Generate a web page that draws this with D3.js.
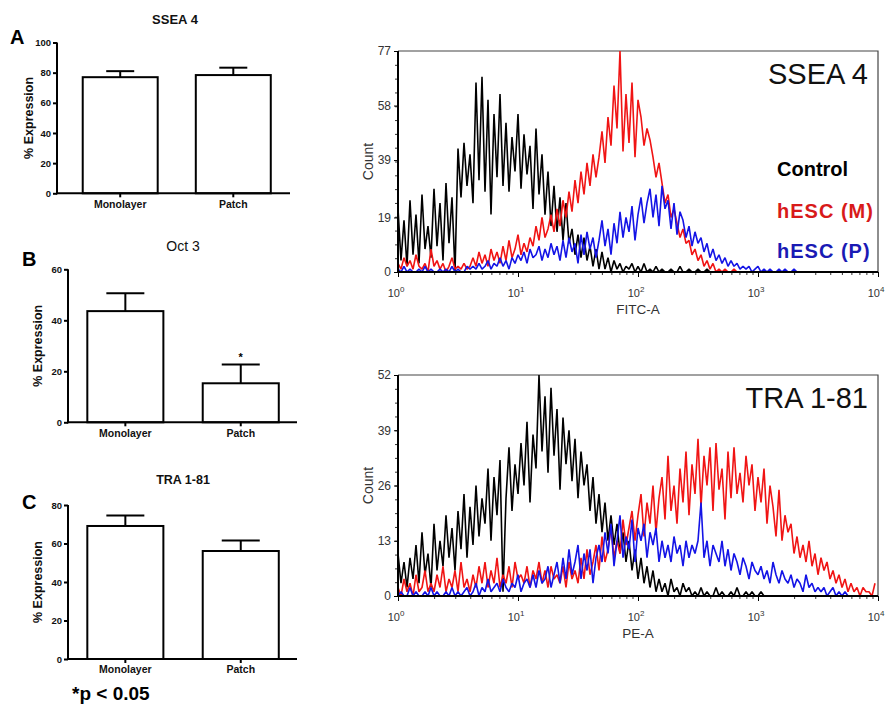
<!DOCTYPE html>
<html>
<head>
<meta charset="utf-8">
<script src="https://cdn.jsdelivr.net/npm/d3@7"></script>
<style>
  body { margin: 0; background: #fff; }
  svg { display: block; }
  text { font-family: "Liberation Sans", Arial, sans-serif; }
</style>
</head>
<body>
<svg id="fig" width="890" height="706"></svg>
<script>
// ---------- bar chart data (% expression, mean and SEM) ----------
const groups = ["Monolayer", "Patch"];

const sseaMean = [77.0, 78.4];
const sseaSem  = [4.0, 4.9];
const sseaTicks = [0, 20, 40, 60, 80, 100];

const oct3Mean = [43.6, 15.3];
const oct3Sem  = [7.0, 7.4];
const oct3Ticks = [0, 20, 40, 60];
const oct3Signif = [false, true];

const traMean = [69.1, 56.1];
const traSem  = [5.5, 5.4];
const traTicks = [0, 20, 40, 60, 80];

// ---------- flow cytometry histograms ----------
// counts per channel bin; bin i sits at fluorescence 10^(i/40)
const binsPerDecade = 40;
const seriesNames = ["Control", "hESC (M)", "hESC (P)"];

const sseaControl = [
  22, 4, 18, 2, 25, 6, 20, 3, 27, 8,
  16, 5, 29, 9, 24, 4, 31, 10, 26, 0,
  43, 26, 45, 30, 41, 24, 66, 32, 68, 28,
  60, 20, 55, 33, 62, 30, 52, 28, 47, 35,
  55, 29, 48, 34, 44, 22, 50, 27, 41, 20,
  35, 16, 30, 14, 26, 11, 24, 10, 15, 6,
  13, 5, 12, 4, 9, 2, 8, 1, 7, 1,
  5, 0, 4, 1, 3, 0, 2, 1, 3, 0,
  2, 0, 3, 0, 1, 0, 2, 0, 1, 0,
  0, 1, 0, 0, 2, 0, 0, 1, 0, 0,
  1, 0, 0, 1, 0, 0, 0, 0, 0, 0,
  0, 0, 0, 0, 0, 0, 0, 0, 0, 0,
  0, 0, 0, 0, 0, 0, 0, 0, 0, 0,
  0, 0, 0, 0, 0, 0, 0, 0, 0, 0,
  0, 0, 0, 0, 0, 0, 0, 0, 0, 0,
  0, 0, 0, 0, 0, 0, 0, 0, 0, 0
];
const sseaMono = [
  3, 1, 5, 2, 4, 1, 6, 2, 1, 3,
  0, 8, 2, 4, 1, 3, 0, 2, 5, 1,
  2, 1, 3, 1, 2, 5, 2, 7, 3, 6,
  2, 8, 4, 7, 3, 9, 4, 11, 5, 8,
  13, 6, 10, 7, 12, 9, 16, 11, 19, 12,
  15, 20, 14, 22, 16, 25, 19, 28, 21, 32,
  24, 35, 27, 38, 30, 41, 33, 40, 49, 38,
  54, 44, 65, 50, 77, 42, 62, 45, 66, 40,
  60, 54, 44, 50, 46, 40, 33, 38, 31, 24,
  27, 19, 22, 17, 12, 15, 10, 11, 6, 8,
  4, 6, 2, 4, 1, 3, 0, 1, 0, 1,
  0, 0, 1, 0, 0, 0, 0, 0, 0, 0,
  0, 0, 0, 0, 0, 0, 0, 0, 0, 0,
  0, 0, 0, 0, 0, 0, 0, 0, 0, 0,
  0, 0, 0, 0, 0, 0, 0, 0, 0, 0,
  0, 0, 0, 0, 0, 0, 0, 0, 0, 0
];
const sseaPatch = [
  1, 0, 2, 0, 1, 0, 0, 1, 0, 2,
  0, 1, 0, 0, 1, 0, 1, 0, 2, 0,
  1, 0, 0, 2, 1, 2, 1, 3, 1, 2,
  4, 1, 3, 2, 5, 2, 4, 1, 5, 3,
  6, 4, 7, 3, 8, 5, 6, 9, 4, 8,
  5, 10, 6, 9, 4, 11, 5, 12, 7, 10,
  3, 13, 6, 14, 8, 12, 5, 11, 18, 9,
  15, 6, 17, 10, 21, 12, 19, 14, 23, 11,
  20, 26, 17, 24, 29, 19, 27, 16, 30, 22,
  25, 15, 24, 13, 21, 18, 12, 16, 9, 14,
  10, 12, 7, 10, 5, 8, 4, 6, 3, 5,
  2, 4, 2, 3, 1, 2, 1, 2, 0, 1,
  2, 0, 1, 0, 1, 0, 0, 1, 0, 1,
  0, 0, 1, 0, 0, 0, 0, 0, 0, 0,
  0, 0, 0, 0, 0, 0, 0, 0, 0, 0,
  0, 0, 0, 0, 0, 0, 0, 0, 0, 0
];

const traControl = [
  10, 3, 8, 2, 9, 4, 12, 3, 15, 5,
  10, 2, 17, 6, 13, 7, 19, 9, 16, 6,
  20, 11, 24, 9, 21, 12, 26, 14, 23, 17,
  30, 13, 28, 19, 32, 1, 23, 35, 20, 31,
  24, 36, 26, 41, 22, 38, 30, 52, 34, 47,
  29, 49, 33, 44, 25, 42, 31, 39, 27, 37,
  23, 34, 26, 31, 20, 28, 17, 24, 15, 22,
  13, 19, 12, 17, 10, 15, 8, 13, 6, 11,
  4, 9, 3, 7, 2, 6, 1, 4, 1, 3,
  0, 4, 1, 2, 0, 3, 1, 2, 0, 1,
  0, 2, 0, 1, 0, 0, 2, 0, 1, 0,
  0, 1, 0, 2, 0, 0, 1, 0, 1, 0,
  0, 1, 0, 0, 0, 0, 0, 0, 0, 0,
  0, 0, 0, 0, 0, 0, 0, 0, 0, 0,
  0, 0, 0, 0, 0, 0, 0, 0, 0, 0,
  0, 0, 0, 0, 0, 0, 0, 0, 0, 0
];
const traMono = [
  2, 0, 4, 1, 3, 0, 5, 1, 2, 6,
  1, 3, 1, 5, 2, 7, 1, 4, 2, 6,
  1, 8, 2, 4, 1, 5, 2, 7, 3, 8,
  2, 6, 3, 9, 2, 5, 3, 7, 2, 8,
  4, 5, 3, 7, 2, 6, 4, 8, 3, 6,
  2, 7, 4, 5, 3, 7, 2, 8, 4, 6,
  3, 9, 4, 11, 5, 8, 12, 6, 14, 8,
  11, 16, 9, 13, 10, 18, 12, 16, 20, 13,
  19, 24, 14, 22, 17, 26, 15, 23, 28, 18,
  33, 20, 26, 17, 30, 22, 34, 19, 31, 24,
  37, 21, 33, 26, 35, 20, 36, 25, 30, 18,
  34, 23, 35, 24, 29, 22, 33, 26, 31, 20,
  28, 22, 30, 17, 26, 21, 14, 25, 13, 19,
  15, 17, 10, 14, 9, 12, 8, 13, 7, 10,
  5, 9, 6, 8, 4, 6, 3, 5, 2, 4,
  1, 3, 1, 2, 0, 2, 1, 1, 0, 3
];
const traPatch = [
  0, 1, 0, 0, 2, 0, 1, 0, 0, 1,
  0, 2, 0, 1, 0, 0, 1, 0, 2, 0,
  1, 0, 1, 2, 0, 1, 3, 0, 2, 1,
  4, 1, 2, 3, 1, 4, 2, 1, 3, 2,
  5, 1, 3, 4, 2, 5, 2, 6, 3, 4,
  7, 2, 5, 8, 3, 9, 4, 11, 5, 8,
  12, 4, 10, 6, 11, 3, 9, 12, 8, 15,
  10, 17, 7, 13, 19, 9, 14, 11, 18, 8,
  16, 13, 17, 9, 15, 12, 16, 8, 13, 9,
  12, 8, 14, 10, 12, 7, 13, 9, 12, 10,
  13, 22, 9, 13, 7, 12, 10, 8, 13, 7,
  11, 6, 10, 8, 5, 9, 7, 4, 8, 6,
  5, 7, 4, 6, 3, 8, 5, 3, 6, 4,
  3, 5, 2, 4, 3, 1, 5, 2, 3, 1,
  2, 1, 2, 0, 1, 2, 0, 1, 0, 1,
  0, 0, 0, 0, 0, 0, 0, 0, 0, 0
];

const sseaCountTicks = [0, 19, 39, 58, 77];
const traCountTicks = [0, 13, 26, 39, 52];
const decadeTicks = [1, 10, 100, 1000, 10000];

// ---------- drawing ----------
const svg = d3.select("#fig");
const FONT = "'Liberation Sans', Arial, sans-serif";

function barPanel(p) {
  const g = svg.append("g");
  const y = d3.scaleLinear().domain([0, p.max]).range([p.y0, p.yTop]);
  const x = d3.scaleBand().domain(groups).range(p.band)
    .paddingInner(p.padIn).paddingOuter(p.padOut);
  const cx = d => x(d) + x.bandwidth() / 2;

  // upper error bars (drawn behind the bar outline)
  const err = g.append("g").attr("stroke", "#000").attr("stroke-width", 2);
  groups.forEach((k, i) => {
    const top = y(p.mean[i] + p.sem[i]);
    err.append("line").attr("x1", cx(k)).attr("x2", cx(k))
      .attr("y1", y(p.mean[i])).attr("y2", top);
    err.append("line").attr("x1", cx(k) - p.capW / 2).attr("x2", cx(k) + p.capW / 2)
      .attr("y1", top).attr("y2", top);
    if (p.signif && p.signif[i]) {
      g.append("text").attr("x", cx(k)).attr("y", top - 3)
        .attr("text-anchor", "middle").attr("font-size", 11).attr("font-weight", "bold")
        .text("*");
    }
  });

  g.selectAll("rect.bar").data(p.mean).join("rect")
    .attr("class", "bar")
    .attr("x", (d, i) => x(groups[i]))
    .attr("y", d => y(d))
    .attr("width", x.bandwidth())
    .attr("height", d => p.y0 - y(d))
    .attr("fill", "#fff").attr("stroke", "#000").attr("stroke-width", 2);

  // y axis
  const ya = g.append("g").attr("transform", `translate(${p.ax},0)`)
    .call(d3.axisLeft(y).tickValues(p.ticks).tickSize(4).tickSizeOuter(0).tickPadding(2));
  ya.select(".domain").attr("stroke-width", 2).attr("d", `M0,${p.y0 + 1}V${p.yTop}`);
  ya.selectAll(".tick line").attr("stroke-width", 2);
  ya.selectAll(".tick text").attr("font-family", FONT).attr("font-size", 9.5)
    .attr("font-weight", "bold").attr("fill", "#111");

  // x axis
  const xa = g.append("g").attr("transform", `translate(0,${p.y0})`)
    .call(d3.axisBottom(x).tickSize(4).tickSizeOuter(0).tickPadding(3));
  xa.select(".domain").attr("stroke-width", 2).attr("d", `M${p.ax - 1},0H${p.xEnd}`);
  xa.selectAll(".tick line").attr("stroke-width", 2);
  xa.selectAll(".tick text").attr("font-family", FONT).attr("font-size", 10.5)
    .attr("font-weight", "bold").attr("fill", "#111");

  // titles
  g.append("text").attr("x", p.titleX).attr("y", p.titleY).attr("text-anchor", "middle")
    .attr("font-size", p.titleSize).attr("font-weight", p.titleWeight).attr("fill", "#111")
    .text(p.title);
  g.append("text").attr("x", p.letterX).attr("y", p.letterY)
    .attr("font-size", 20).attr("font-weight", "bold").text(p.letter);
  g.append("text")
    .attr("transform", `translate(${p.ylabX},${(p.y0 + p.yTop) / 2}) rotate(-90)`)
    .attr("text-anchor", "middle").attr("font-size", 12.5).attr("font-weight", "bold")
    .attr("fill", "#111").text("% Expression");
}

barPanel({
  mean: sseaMean, sem: sseaSem, ticks: sseaTicks, max: 100,
  ax: 57, y0: 193.3, yTop: 42.5, xEnd: 290,
  band: [63.5, 290], padIn: 0.337, padOut: 0.17, capW: 28,
  title: "SSEA 4", titleX: 175, titleY: 24, titleSize: 13, titleWeight: "bold",
  letter: "A", letterX: 10, letterY: 44, ylabX: 33
});
barPanel({
  mean: oct3Mean, sem: oct3Sem, ticks: oct3Ticks, max: 60, signif: oct3Signif,
  ax: 68, y0: 422.3, yTop: 269.3, xEnd: 297,
  band: [67.7, 298.4], padIn: 0.341, padOut: 0.17, capW: 38,
  title: "Oct 3", titleX: 183, titleY: 251, titleSize: 14, titleWeight: "normal",
  letter: "B", letterX: 22, letterY: 266, ylabX: 42
});
barPanel({
  mean: traMean, sem: traSem, ticks: traTicks, max: 80,
  ax: 68, y0: 659, yTop: 505, xEnd: 297,
  band: [67.7, 298.4], padIn: 0.341, padOut: 0.17, capW: 38,
  title: "TRA 1-81", titleX: 183, titleY: 484, titleSize: 12.5, titleWeight: "bold",
  letter: "C", letterX: 22, letterY: 509, ylabX: 42
});

svg.append("text").attr("x", 72).attr("y", 700)
  .attr("font-size", 19).attr("font-weight", "bold").text("*p < 0.05");

// ---------- histograms ----------
const lineColors = ["#000000", "#f01414", "#1414e6"];
const legendColors = ["#000000", "#d81a1a", "#1a1ab4"];

function histPanel(h) {
  const g = svg.append("g");
  const x = d3.scaleLog().domain([1, 1e4]).range([h.x0, h.x1]);
  const y = d3.scaleLinear().domain([0, h.max]).range([h.yBot, h.yTop]);
  const clipId = "clip-" + h.key;

  g.append("clipPath").attr("id", clipId).append("rect")
    .attr("x", h.x0).attr("y", h.yTop - 1).attr("width", h.x1 - h.x0).attr("height", h.yBot - h.yTop + 1);

  // frame (top and right)
  g.append("path").attr("d", `M${h.x0},${h.yTop}H${h.x1}V${h.yBot}`)
    .attr("fill", "none").attr("stroke", "#444").attr("stroke-width", 1.2);

  const line = d3.line()
    .x((d, i) => x(Math.pow(10, i / binsPerDecade)))
    .y(d => y(d));

  const lines = g.append("g").attr("clip-path", `url(#${clipId})`);
  h.series.forEach((s, k) => {
    lines.append("path").datum(s).attr("d", line)
      .attr("fill", "none").attr("stroke", lineColors[k])
      .attr("stroke-width", 1.6).attr("stroke-linejoin", "bevel");
  });

  // y axis with minor ticks
  const minor = d3.range(17).map(k => k * h.max / 16);
  g.append("g").attr("transform", `translate(${h.x0},0)`)
    .call(d3.axisLeft(y).tickValues(minor).tickSize(3).tickFormat(""))
    .call(a => a.select(".domain").remove())
    .selectAll("line").attr("stroke", "#333");
  const ya = g.append("g").attr("transform", `translate(${h.x0},0)`)
    .call(d3.axisLeft(y).tickValues(h.ticks).tickSize(4).tickSizeOuter(0).tickPadding(3)
      .tickFormat(d3.format("d")));
  ya.select(".domain").attr("stroke-width", 2).attr("d", `M0,${h.yBot + 1}V${h.yTop}`);
  ya.selectAll(".tick text").attr("font-family", FONT).attr("font-size", 12).attr("fill", "#333");

  // x axis: decades with log minor ticks
  const minorX = [];
  decadeTicks.slice(0, -1).forEach(d => { for (let m = 2; m <= 9; m++) minorX.push(d * m); });
  g.append("g").attr("transform", `translate(0,${h.yBot})`)
    .call(d3.axisBottom(x).tickValues(minorX).tickSize(3).tickFormat(""))
    .call(a => a.select(".domain").remove())
    .selectAll("line").attr("stroke", "#333");
  const xa = g.append("g").attr("transform", `translate(0,${h.yBot})`)
    .call(d3.axisBottom(x).tickValues(decadeTicks).tickSize(5).tickSizeOuter(0).tickFormat(""));
  xa.select(".domain").attr("stroke-width", 2).attr("d", `M${h.x0 - 1},0H${h.x1}`);

  decadeTicks.forEach(d => {
    const t = g.append("text").attr("x", x(d) - 2).attr("y", h.yBot + 25)
      .attr("text-anchor", "middle").attr("font-size", 11).attr("fill", "#333");
    t.append("tspan").text("10");
    t.append("tspan").attr("dy", -5).attr("font-size", 8).text(Math.round(Math.log10(d)));
  });

  g.append("text").attr("x", (h.x0 + h.x1) / 2).attr("y", h.yBot + 42)
    .attr("text-anchor", "middle").attr("font-size", 13.5).attr("fill", "#333").text(h.xLabel);
  g.append("text")
    .attr("transform", `translate(${h.x0 - 25},${(h.yTop + h.yBot) / 2}) rotate(-90)`)
    .attr("text-anchor", "middle").attr("font-size", 14).attr("fill", "#333").text("Count");

  g.append("text").attr("x", 868).attr("y", h.yTop + h.titleDy).attr("text-anchor", "end")
    .attr("font-size", 29).attr("fill", "#111").text(h.title);

  if (h.legend) {
    seriesNames.forEach((n, k) => {
      g.append("text").attr("x", 777).attr("y", h.legendY[k])
        .attr("font-size", 20).attr("font-weight", "bold")
        .attr("letter-spacing", k === 0 ? 0 : 1)
        .attr("fill", legendColors[k]).text(n);
    });
  }
}

histPanel({
  key: "ssea", series: [sseaControl, sseaMono, sseaPatch], max: 77, ticks: sseaCountTicks,
  x0: 398, x1: 878, yTop: 51, yBot: 272, xLabel: "FITC-A",
  title: "SSEA 4", titleDy: 33, legend: true, legendY: [176, 218, 258]
});
histPanel({
  key: "tra", series: [traControl, traMono, traPatch], max: 52, ticks: traCountTicks,
  x0: 398, x1: 878, yTop: 375, yBot: 596, xLabel: "PE-A",
  title: "TRA 1-81", titleDy: 33, legend: false
});
</script>
</body>
</html>
